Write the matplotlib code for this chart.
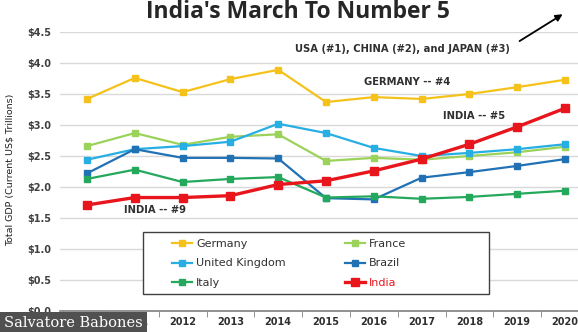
import numpy as np
import matplotlib.pyplot as plt
from matplotlib.patches import Rectangle

# --- data ---
years = [2010, 2011, 2012, 2013, 2014, 2015, 2016, 2017, 2018, 2019, 2020]
germany = [3.42, 3.76, 3.53, 3.74, 3.89, 3.37, 3.45, 3.42, 3.50, 3.61, 3.73]
france = [2.66, 2.87, 2.68, 2.81, 2.85, 2.42, 2.47, 2.44, 2.50, 2.56, 2.65]
uk = [2.44, 2.61, 2.66, 2.73, 3.02, 2.87, 2.63, 2.50, 2.55, 2.61, 2.69]
brazil = [2.22, 2.61, 2.47, 2.47, 2.46, 1.82, 1.80, 2.15, 2.24, 2.34, 2.45]
italy = [2.13, 2.28, 2.08, 2.13, 2.16, 1.83, 1.85, 1.81, 1.84, 1.89, 1.94]
india = [1.71, 1.83, 1.83, 1.86, 2.04, 2.10, 2.26, 2.45, 2.69, 2.97, 3.27]
yticks = [0.0, 0.5, 1.0, 1.5, 2.0, 2.5, 3.0, 3.5, 4.0, 4.5]

W, H = 578, 332
fig = plt.figure(figsize=(W / 100, H / 100), dpi=100)
# axes placed in pixel terms
ax = fig.add_axes([60 / W, (H - 311) / H, (578 - 60) / W, (311 - 32) / H])

px_per_year = (565 - 87) / 10
ax.set_xlim(2010 - (87 - 60) / px_per_year, 2020 + (578 - 565) / px_per_year)
ax.set_ylim(0, 4.5)

series = [
    ("Germany", germany, "#F4C21B", 1.6, 4.8),
    ("France", france, "#9BD25A", 1.6, 4.8),
    ("United Kingdom", uk, "#27AEE3", 1.6, 4.8),
    ("Brazil", brazil, "#2171B5", 1.6, 4.8),
    ("Italy", italy, "#24A85B", 1.6, 4.8),
    ("India", india, "#E8161C", 2.4, 6.2),
]
handles = {}
for name, vals, col, lw, ms in series:
    h, = ax.plot(years, vals, color=col, lw=lw, marker="s", ms=ms,
                 markeredgecolor=col, label=name, zorder=3 if name != "India" else 4)
    handles[name] = h

# grid & axes
ax.set_yticks(yticks)
ax.set_yticklabels([f"${v:.1f}" for v in yticks])
ax.yaxis.grid(True, color="#D9D9D9", lw=1)
ax.set_axisbelow(True)
for s in ["left", "right", "top"]:
    ax.spines[s].set_visible(False)
ax.spines["bottom"].set_color("#7F7F7F")
ax.spines["bottom"].set_linewidth(1.2)
ax.tick_params(axis="y", length=0, pad=6, labelsize=7, labelcolor="#404040")
for t in ax.get_yticklabels():
    t.set_fontweight("bold")
ax.set_xticks(years)
ax.set_xticklabels([str(y) for y in years])
ax.set_xticks([y + 0.5 for y in [2009] + years[:-1]], minor=True)
ax.tick_params(axis="x", which="major", length=0, pad=4, labelsize=7, labelcolor="#303030")
ax.tick_params(axis="x", which="minor", length=4, color="#7F7F7F", direction="out")
for t in ax.get_xticklabels():
    t.set_fontweight("bold")

fig.text(10 / W, 1 - 170 / H, "Total GDP (Current US$ Trillions)", rotation=90,
         ha="center", va="center", fontsize=6.8, color="#202020")

# title
fig.text(298 / W, 1 - 12 / H, "India's March To Number 5", ha="center", va="center",
         fontsize=16.5, fontweight="bold", color="#262626", family="Open Sans")

# annotations
akw = dict(fontsize=7.2, fontweight="bold", color="#303030", ha="left", va="center")
ax.text(2014.35, 4.23, "USA (#1), CHINA (#2), and JAPAN (#3)", **akw)
ax.annotate("", xy=(2020.0, 4.81), xytext=(2019.0, 4.33),
            arrowprops=dict(arrowstyle="-|>", color="black", lw=1.3, mutation_scale=10),
            annotation_clip=False)
ax.text(2015.8, 3.69, "GERMANY -- #4", **akw)
ax.text(2017.45, 3.14, "INDIA -- #5", **akw)
ax.text(2010.78, 1.63, "INDIA -- #9", **akw)

# legend box drawn by hand, entries filled column by column
box = Rectangle((143 / W, 1 - 294 / H), (489 - 143) / W, (294 - 232) / H,
                transform=fig.transFigure, fc="white", ec="#404040", lw=1.0, zorder=5)
ax.add_patch(box)
box.set_clip_on(False)
order = ["Germany", "United Kingdom", "Italy", "France", "Brazil", "India"]
leg = ax.legend([handles[n] for n in order], order, ncol=2,
                loc="upper left", bbox_to_anchor=(172 / W, 1 - 239 / H),
                bbox_transform=fig.transFigure,
                fontsize=8, frameon=False, borderpad=0, borderaxespad=0,
                labelspacing=0.85, columnspacing=5.35, handlelength=1.8,
                handletextpad=0.35, markerscale=1.0)
leg.set_zorder(6)
for t in leg.get_texts():
    t.set_color("#303030")
    if t.get_text() == "India":
        t.set_color("#E8161C")

# watermark
fig.text(4 / W, 1 - 323 / H, "Salvatore Babones", ha="left", va="center",
         fontsize=10.5, color="white", family="DejaVu Serif",
         bbox=dict(boxstyle="square,pad=0.3", fc="#505050", ec="none"))

fig.savefig("out.png", dpi=100)
